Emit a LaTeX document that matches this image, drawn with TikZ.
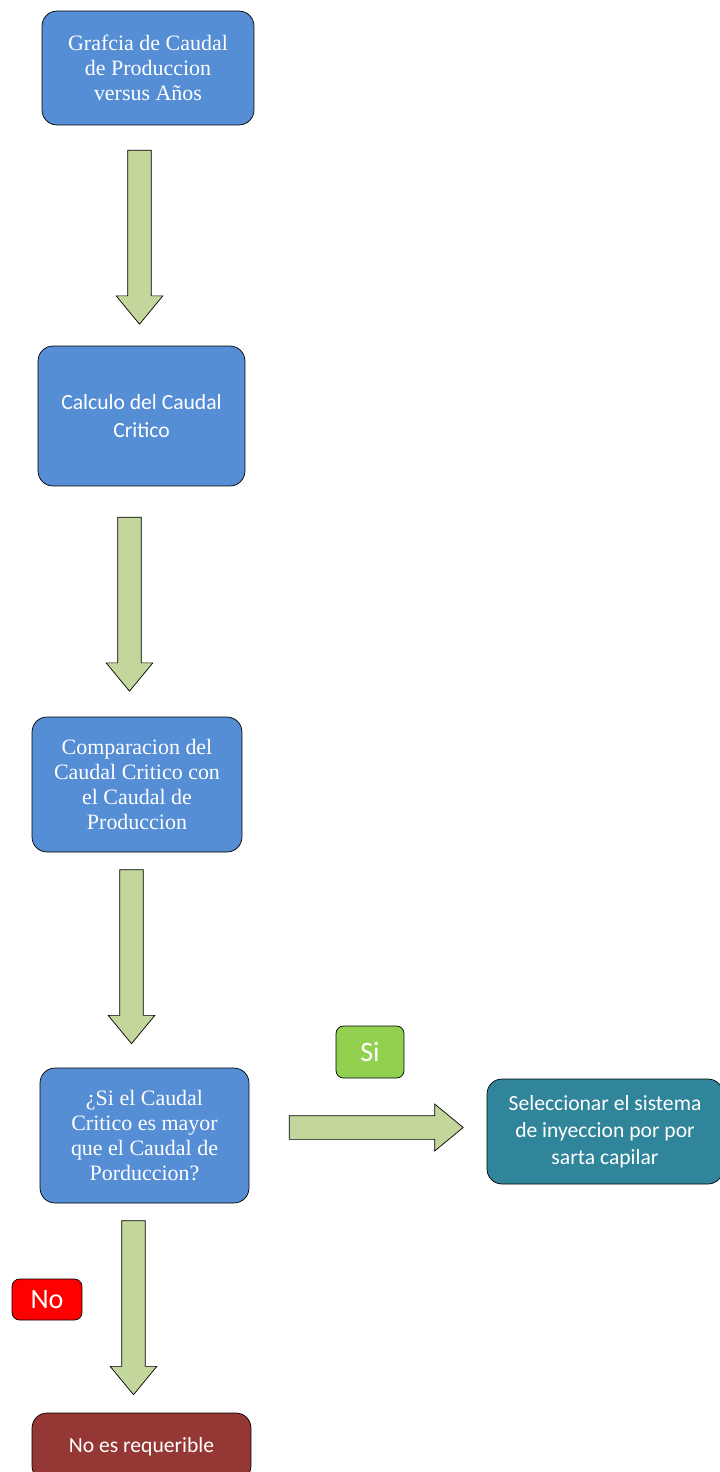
\documentclass[tikz,border=0pt]{standalone}
\usepackage{fontspec}
\setmainfont{Liberation Serif}
\newfontfamily\calfont{Carlito}
\usetikzlibrary{shapes.arrows}

\definecolor{boxblue}{RGB}{85,142,213}
\definecolor{boxteal}{RGB}{49,133,155}
\definecolor{boxred}{RGB}{149,55,53}
\definecolor{lblgreen}{RGB}{146,208,80}
\definecolor{arrowgreen}{RGB}{195,214,155}

\begin{document}
\begin{tikzpicture}[
    x=0.02cm, y=-0.02cm,
    paso/.style={draw=black, fill=boxblue, rounded corners=0.3cm, text=white, align=center,
        font=\fontsize{12.5}{14.2}\selectfont, inner sep=2pt},
    pasosans/.style={paso, font=\calfont\fontsize{12.3}{15.5}\selectfont},
    etiq/.style={draw=black, rounded corners=0.15cm, text=white, font=\calfont\fontsize{16}{18}\selectfont},
    flecha/.style={single arrow, draw=black, fill=arrowgreen, inner xsep=0pt, inner ysep=0.23cm,
        minimum height=3.48cm, single arrow head extend=0.23cm,
        single arrow tip angle=79, single arrow head indent=0pt}
]
    \useasboundingbox (0,0) rectangle (720,1472);

    % --- cajas ---
    \node[paso, minimum width=4.24cm, minimum height=2.28cm] (p1) at (148,68)
        {Grafcia de Caudal\\de Produccion\\versus Años};
    \node[pasosans, minimum width=4.14cm, minimum height=2.8cm] (p2) at (141.5,416)
        {Calculo del Caudal\\Critico};
    \node[paso, minimum width=4.2cm, minimum height=2.7cm] (p3) at (137,784.5)
        {Comparacion del\\Caudal Critico con\\el Caudal de\\Produccion};
    \node[paso, minimum width=4.18cm, minimum height=2.7cm] (p4) at (144.5,1135.5)
        {¿Si el Caudal\\Critico es mayor\\que el Caudal de\\Porduccion?};
    \node[pasosans, fill=boxteal, minimum width=4.72cm, minimum height=2.1cm] (si) at (605,1131.5)
        {Seleccionar el sistema\\de inyeccion por por\\sarta capilar};
    \node[pasosans, fill=boxred, minimum width=4.38cm, minimum height=1.36cm] (no) at (141.5,1447)
        {No es requerible};

    % --- etiquetas ---
    \node[etiq, fill=lblgreen, minimum width=1.36cm, minimum height=1.04cm] (lsi) at (370,1052) {Si};
    \node[etiq, fill=red, minimum width=1.4cm, minimum height=0.82cm] (lno) at (47,1299.5) {No};

    % --- flechas ---
    \node[flecha, rotate=-90] (f1) at (139.5,230) {};
    \node[flecha, rotate=-90] (f2) at (129.5,597) {};
    \node[flecha, rotate=-90] (f3) at (131.5,949.5) {};
    \node[flecha, rotate=-90] (f4) at (133.5,1300.5) {};
    \node[flecha] (f5) at (369,1127.5) {};
\end{tikzpicture}
\end{document}
